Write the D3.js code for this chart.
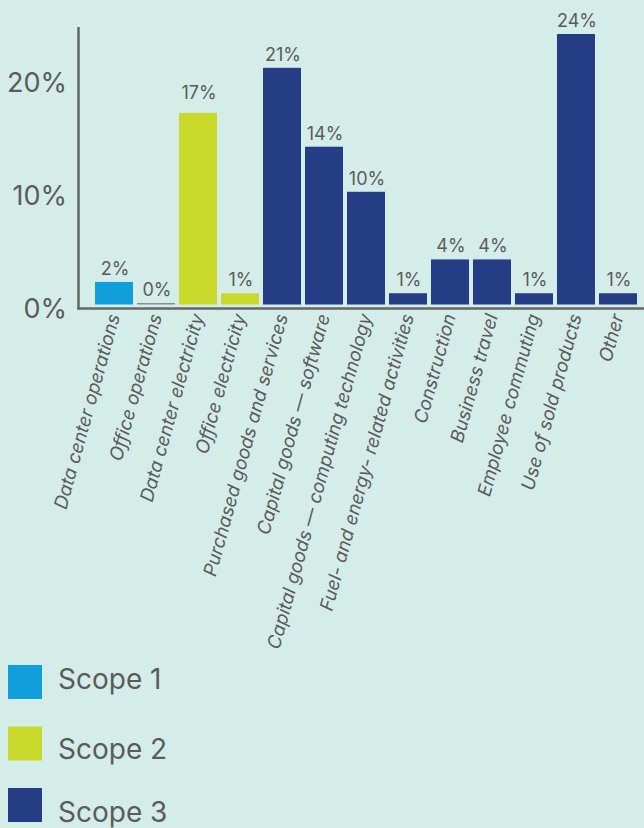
<!DOCTYPE html>
<html>
<head>
<meta charset="utf-8">
<script src="https://cdn.jsdelivr.net/npm/d3@7"></script>
<style>
  html, body { margin: 0; padding: 0; background: #d5ede9; }
  svg { display: block; font-family: Inter, "Noto Sans", sans-serif; }
</style>
</head>
<body>
<svg id="chart" width="644" height="828"></svg>
<script>
// Emissions share by category
const categories = [
  "Data center operations", "Office operations", "Data center electricity",
  "Office electricity", "Purchased goods and services", "Capital goods — software",
  "Capital goods — computing technology", "Fuel- and energy- related activities",
  "Construction", "Business travel", "Employee commuting", "Use of sold products", "Other"
];
const values = [2, 0, 17, 1, 21, 14, 10, 1, 4, 4, 1, 24, 1];
const scopes = [1, 1, 2, 2, 3, 3, 3, 3, 3, 3, 3, 3, 3];
const scopeNames = ["Scope 1", "Scope 2", "Scope 3"];
const scopeColors = ["#109fdb", "#c9d92b", "#253d85"];
const yTicks = [0, 10, 20];

const svg = d3.select("#chart");
const textColor = "#5b5b5b";

const x = d3.scaleBand().domain(categories).range([93, 639]).paddingInner(0.095).paddingOuter(0.048);
const y = d3.scaleLinear().domain([0, 24]).range([304.5, 34]);
const color = d3.scaleOrdinal().domain([1, 2, 3]).range(scopeColors);

// axes lines
svg.append("line").attr("x1", 78.5).attr("x2", 78.5).attr("y1", 27).attr("y2", 309.5)
  .attr("stroke", "#666").attr("stroke-width", 2.5);
svg.append("line").attr("x1", 77.5).attr("x2", 644).attr("y1", 308.5).attr("y2", 308.5)
  .attr("stroke", "#666").attr("stroke-width", 2.5);

// y tick labels
svg.append("g").selectAll("text").data(yTicks).join("text")
  .attr("x", 67).attr("y", d => y(d) + 6)
  .attr("text-anchor", "end").attr("dominant-baseline", "middle")
  .attr("font-size", 27).attr("fill", textColor)
  .text(d => d + "%");

const data = categories.map((c, i) => ({ c, v: values[i], s: scopes[i] }));

// bars (a zero value still gets a thin grey line)
svg.append("g").selectAll("rect").data(data).join("rect")
  .attr("x", d => x(d.c)).attr("width", x.bandwidth())
  .attr("y", d => d.v > 0 ? y(d.v) : y(0) - 1.5)
  .attr("height", d => d.v > 0 ? y(0) - y(d.v) : 1.5)
  .attr("fill", d => d.v > 0 ? color(d.s) : "#8a8f92");

// value labels; the tall scope 2 label sits a little higher
const labelLift = { "Data center electricity": 7 };
svg.append("g").selectAll("text").data(data).join("text")
  .attr("x", d => x(d.c) + x.bandwidth() / 2 + 1)
  .attr("y", d => (d.v > 0 ? y(d.v) : y(0) - 1.5) - 7 - (labelLift[d.c] || 0))
  .attr("text-anchor", "middle")
  .attr("font-size", 18).attr("fill", textColor)
  .text(d => d.v + "%");

// category labels, slanted under each bar
svg.append("g").selectAll("text").data(data).join("text")
  .attr("transform", d => `translate(${x(d.c) + x.bandwidth() / 2 + 6},316) rotate(-74.5)`)
  .attr("text-anchor", "end")
  .attr("font-size", 18.5).attr("font-style", "italic").attr("fill", textColor)
  .text(d => d.c);

// legend
const legendTextY = [24, 32, 34];
const legend = svg.append("g").selectAll("g").data(scopeNames).join("g")
  .attr("transform", (d, i) => `translate(8,${665 + i * 61.5})`);
legend.append("rect").attr("width", 34).attr("height", 34)
  .attr("fill", (d, i) => scopeColors[i]);
legend.append("text").attr("x", 50).attr("y", (d, i) => legendTextY[i])
  .attr("font-size", 28).attr("fill", textColor)
  .text(d => d);
</script>
</body>
</html>
